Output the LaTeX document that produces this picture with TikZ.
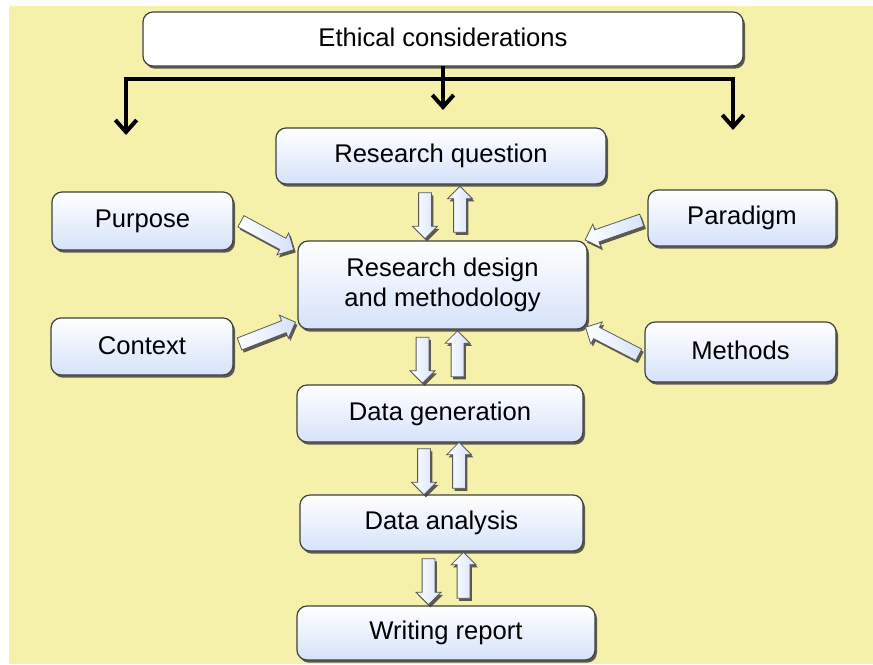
\documentclass[tikz,border=0pt]{standalone}
\usepackage{fontspec}
\setmainfont{Liberation Sans}
\usetikzlibrary{calc,shapes.arrows,shadows,arrows.meta}

\definecolor{paper}{RGB}{246,241,170}
\definecolor{boxblue}{RGB}{214,226,250}
\definecolor{boxline}{RGB}{64,64,64}

\tikzset{every picture/.style={line width=0.75pt},
  boxshadow/.style={drop shadow={shadow xshift=1.5pt,shadow yshift=-2pt,fill=black!75,opacity=0.85}},
  stage/.style={draw=boxline,line width=0.9pt,rounded corners=7.5pt,top color=white,bottom color=boxblue,
    boxshadow,font=\fontsize{19.2}{22.5}\selectfont,align=center,inner sep=0pt,outer sep=0pt},
  plainstage/.style={stage,top color=white,bottom color=white},
  flowarr/.style={single arrow,draw=gray!70!black,line width=0.6pt,left color=white,right color=boxblue,
    minimum height=34.5pt,inner sep=4.5pt,single arrow head extend=4.5pt,outer sep=0pt,boxshadow},
  ethic/.style={line width=3pt,-{Straight Barb[length=9pt,width=16pt]}}
}

\begin{document}
\begin{tikzpicture}[x=0.75pt,y=0.75pt,yscale=-1,xscale=1]
\useasboundingbox (0,0) rectangle (873,664);
%background sheet
\fill[paper] (9,6) rectangle (873,664);

%Boxes
\node[plainstage,minimum width=450pt,minimum height=40.5pt] (eth) at (443,39) {\raisebox{3pt}{Ethical considerations}};
\node[stage,minimum width=247.5pt,minimum height=42pt] (rq) at (441,156) {Research question};
\node[stage,minimum width=135.75pt,minimum height=43.5pt] (pur) at (142.5,221) {\raisebox{2pt}{Purpose}};
\node[stage,minimum width=141pt,minimum height=42pt] (par) at (742,218) {\raisebox{2pt}{Paradigm}};
\node[stage,minimum width=216.75pt,minimum height=66pt] (rd) at (442.5,285) {Research design\\and methodology};
\node[stage,minimum width=136.5pt,minimum height=42.75pt] (ctx) at (142,346.5) {\raisebox{2pt}{Context}};
\node[stage,minimum width=143.25pt,minimum height=45pt] (met) at (740.5,352) {\raisebox{2pt}{Methods}};
\node[stage,minimum width=214.5pt,minimum height=42.75pt] (dg) at (440,413.5) {Data generation};
\node[stage,minimum width=212.25pt,minimum height=42pt] (da) at (441.5,523) {Data analysis};
\node[stage,minimum width=223.5pt,minimum height=40.5pt] (wr) at (446,633) {Writing report};

%Ethics bar
\coordinate (bar) at (443,79);
\coordinate (mid) at (443,110);
\coordinate (lft) at (126,135);
\coordinate (rgt) at (733,130);
\draw[ethic] (eth.south) -- (mid);
\draw[ethic,{Straight Barb[length=9pt,width=16pt]}-{Straight Barb[length=9pt,width=16pt]}] (lft) |- (bar) -| (rgt);

%Two-way arrows down the middle
\foreach \u/\l in {rq/rd,rd/dg,dg/da,da/wr}{
  \node[flowarr,rotate=-90] at ($(\u.south -| \l.north)!0.5!(\l.north)+(-17.5,0)$) {};
  \node[flowarr,rotate=90] at ($(\u.south -| \l.north)!0.5!(\l.north)+(17.5,0)$) {};
}

%Inputs into the design
\coordinate (purA) at ($(pur.east)+(0,-4)$);
\coordinate (purB) at ($(rd.west)+(-2,-34)$);
\coordinate (ctxA) at (ctx.east);
\coordinate (ctxB) at ($(rd.west)+(-2,37)$);
\coordinate (parA) at (par.west);
\coordinate (parB) at ($(rd.east)+(-2,-45)$);
\coordinate (metA) at ($(met.west)+(0,6)$);
\coordinate (metB) at ($(rd.east)+(-2,42)$);
% y axis runs downwards here, hence the minus on the angle
\foreach \s in {pur,ctx,par,met}
  \path let \p1=($(\s B)-(\s A)$), \n1={atan2(\y1,\x1)} in
    ($(\s A)!0.5!(\s B)$) node[flowarr,minimum height=45pt,rotate=-\n1] {};

\end{tikzpicture}
\end{document}
